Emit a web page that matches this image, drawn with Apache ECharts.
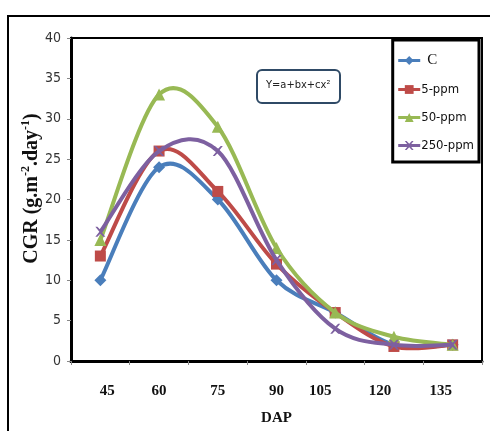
<!DOCTYPE html>
<html><head><meta charset="utf-8">
<script src="https://cdn.jsdelivr.net/npm/echarts@6/dist/echarts.min.js"></script>
<style>html,body{margin:0;padding:0;background:#fff}#c{width:490px;height:431px}</style>
</head><body><div id="c"></div>
<script>
const categories = ['45','60','75','90','105','120','135'];
const seriesNames = ['C','5-ppm','50-ppm','250-ppm'];
const valuesC = [10, 24, 20, 10, 6, 2, 2];
const values5 = [13, 26, 21, 12, 6, 1.8, 2];
const values50 = [15, 33, 29, 14, 6, 3, 2];
const values250 = [16, 26, 26, 12.5, 4, 2, 2];
const yTicks = {min: 0, max: 40, interval: 5};

const colors = ['#4A7EBB', '#BE4B48', '#98B954', '#7D60A0'];
const symbols = ['diamond', 'rect', 'triangle', 'path://M0,0 L2,0 L5,3 L8,0 L10,0 L6,5 L10,10 L8,10 L5,7 L2,10 L0,10 L4,5 Z'];
const allValues = [valuesC, values5, values50, values250];
const narrow = '"DejaVu Sans Condensed", "Liberation Sans Narrow", Roboto, sans-serif';
// per-label horizontal nudges (style only)
const labelStyleKeys = ['r7', 'n', 'n', 'n', 'l15', 'l14', 'l12'];

// Excel-style smoothed curve through the data points (drawn via the axis scales)
function curveSeries(vals, color, idx) {
  return {
    name: seriesNames[idx] + '-curve',
    type: 'custom',
    data: vals.map((v, i) => [i, v]),
    encode: {x: 0, y: 1},
    z: 2 + idx,
    silent: true,
    renderItem: function (params, api) {
      if (params.dataIndex !== 0) return null;
      const p = vals.map((v, i) => api.coord([i, v]));
      const n = p.length;
      let d = 'M' + p[0][0] + ',' + p[0][1];
      for (let i = 0; i < n - 1; i++) {
        const p0 = p[Math.max(i - 1, 0)], p1 = p[i], p2 = p[i + 1], p3 = p[Math.min(i + 2, n - 1)];
        const c1 = [p1[0] + (p2[0] - p0[0]) / 6, p1[1] + (p2[1] - p0[1]) / 6];
        const c2 = [p2[0] - (p3[0] - p1[0]) / 6, p2[1] - (p3[1] - p1[1]) / 6];
        d += ' C' + c1[0] + ',' + c1[1] + ' ' + c2[0] + ',' + c2[1] + ' ' + p2[0] + ',' + p2[1];
      }
      return {type: 'path', shape: {pathData: d}, style: {fill: 'none', stroke: color, lineWidth: 4}};
    }
  };
}

const xl = {fontFamily: '"Liberation Serif", serif', fontWeight: 'bold', fontSize: 15, color: '#111'};
const chart = echarts.init(document.getElementById('c'));
chart.setOption({
  animation: false,
  graphic: [
    {type: 'rect', shape: {x: 8, y: 16, width: 500, height: 430}, style: {fill: 'none', stroke: '#000', lineWidth: 2}, z: 0},
    {type: 'rect', shape: {x: 257, y: 70, width: 83, height: 33, r: 5}, style: {fill: '#fff', stroke: '#2F4A66', lineWidth: 2}, z: 10},
    {type: 'text', left: 266, top: 80, style: {text: 'Y=a+bx+cx²', font: '11px ' + narrow, fill: '#222'}, z: 11}
  ],
  grid: {left: 71, top: 38, right: 8, bottom: 64, show: true, borderColor: '#000', borderWidth: 2},
  legend: {
    data: seriesNames,
    orient: 'vertical',
    right: 11, top: 40,
    backgroundColor: '#fff',
    borderColor: '#000', borderWidth: 3,
    padding: [13, 5, 10, 4],
    itemGap: 15,
    itemWidth: 22, itemHeight: 11,
    lineStyle: {opacity: 1, width: 3},
    formatter: function (n) { return n === 'C' ? '{c|C}' : n; },
    textStyle: {fontFamily: narrow, fontSize: 13, color: '#111', padding: [0,0,0,-4],
      rich: {c: {fontFamily: '"Liberation Serif", serif', fontSize: 15, color: '#111', padding: [0,0,0,6]}}}
  },
  xAxis: {
    type: 'category',
    data: categories,
    name: 'DAP',
    nameLocation: 'middle',
    nameGap: 50,
    nameTextStyle: {fontFamily: '"Liberation Serif", serif', fontWeight: 'bold', fontSize: 15, color: '#111'},
    axisLine: {lineStyle: {color: '#000', width: 3}},
    axisTick: {show: true, lineStyle: {color: '#888'}, length: 4},
    axisLabel: {
      interval: 0,
      hideOverlap: false,
      margin: 23,
      formatter: function (v, i) { return '{' + labelStyleKeys[i] + '|' + v + '}'; },
      rich: {
        n: xl,
        r7: Object.assign({}, xl, {padding: [0, 0, 0, 14]}),
        l15: Object.assign({}, xl, {padding: [0, 30, 0, 0]}),
        l14: Object.assign({}, xl, {padding: [0, 28, 0, 0]}),
        l12: Object.assign({}, xl, {padding: [0, 24, 0, 0]})
      }
    }
  },
  yAxis: {
    type: 'value',
    min: yTicks.min, max: yTicks.max, interval: yTicks.interval,
    name: '{b|CGR (g.m}{s|-2}{b|.day}{s|-1}{b|)}',
    nameLocation: 'middle',
    nameGap: 28,
    nameMoveOverlap: false,
    nameTextStyle: {
      padding: [0, 0, 0, 22],
      rich: {
        b: {fontFamily: '"Liberation Serif", serif', fontWeight: 'bold', fontSize: 20, color: '#111'},
        s: {fontFamily: '"Liberation Serif", serif', fontWeight: 'bold', fontSize: 12, color: '#111', verticalAlign: 'top', padding: [0,0,11,0]}
      }
    },
    splitLine: {show: false},
    axisLine: {show: true, lineStyle: {color: '#000', width: 3}},
    axisTick: {show: true, lineStyle: {color: '#888'}, length: 4},
    axisLabel: {fontFamily: narrow, fontSize: 14, color: '#333', margin: 10}
  },
  series: seriesNames.map((n, i) => ({
    name: n,
    type: 'line',
    data: allValues[i],
    symbol: symbols[i],
    symbolSize: i === 3 ? 10 : (i === 1 ? 11 : 12),
    lineStyle: {color: colors[i], width: 4, opacity: 0},
    itemStyle: {color: colors[i]},
    z: 2 + i
  })).concat(allValues.map((v, i) => curveSeries(v, colors[i], i)))
});
</script></body></html>
